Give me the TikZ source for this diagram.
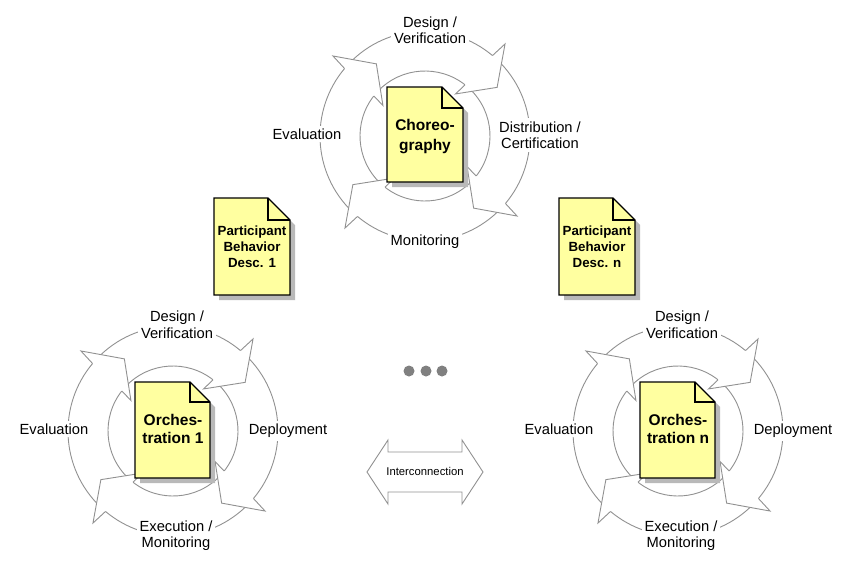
\documentclass[tikz,border=0pt]{standalone}
\usepackage{fontspec}
\setmainfont{Liberation Sans}
\definecolor{ringgray}{RGB}{145,145,145}
\definecolor{docyellow}{RGB}{255,255,160}
\definecolor{shadowgray}{RGB}{185,185,185}
\definecolor{dotgray}{RGB}{128,128,128}
\tikzset{
  ringline/.style={draw=ringgray, line width=0.9pt, line join=miter},
  docline/.style={draw=black, line width=1.2pt, line join=miter},
  lbl/.style={align=center, fill=white, inner sep=3pt, text=black,
    font=\fontsize{14.7}{16.5}\selectfont},
  doctxt/.style={align=center, inner sep=0pt, font=\bfseries\fontsize{15.5}{18.5}\selectfont},
  parttxt/.style={align=center, inner sep=0pt, font=\bfseries\fontsize{13.3}{16}\selectfont},
}
% body of one ring arrow: tail under previous head, ends at base angle #1
\newcommand\ringbody[1]{%
  \pgfmathsetmacro\tA{#1+86}%
  \pgfmathsetmacro\tI{#1+2}%
  \fill[white] (\tA:105) arc[start angle=\tA, end angle=#1, radius=105]
     -- (\tI:65) arc[start angle=\tI, end angle=\tA, radius=65] -- cycle;
  \draw[ringline] (\tA:105) arc[start angle=\tA, end angle=#1, radius=105];
  \draw[ringline] (\tA:65) arc[start angle=\tA, end angle=\tI, radius=65];
}
% head of one ring arrow at base angle #1 (points clockwise)
\newcommand\ringhead[1]{%
  \pgfmathsetmacro\hA{#1-1}%
  \pgfmathsetmacro\hT{#1-16}%
  \pgfmathsetmacro\hI{#1+4}%
  \pgfmathsetmacro\hB{#1+2}%
  \filldraw[ringline, fill=white] (#1:105) -- (\hA:122) -- (\hT:87) -- (\hI:52) -- (\hB:65);
}
\newcommand\ringcycle{%
  \foreach \b in {50,-40,-130,140} {\ringbody{\b}}
  \foreach \b in {50,-40,-130,140} {\ringhead{\b}}
}
% document with folded corner: left, top, right, bottom, fold
\newcommand\docfig[5]{%
  \fill[shadowgray, shift={(5,5)}] (#1,#2) -- ({#3-#5},#2) -- (#3,{#2+#5}) -- (#3,#4) -- (#1,#4) -- cycle;
  \filldraw[docline, fill=docyellow] (#1,#2) -- ({#3-#5},#2) -- (#3,{#2+#5}) -- (#3,#4) -- (#1,#4) -- cycle;
  \draw[docline] ({#3-#5},#2) -- ({#3-#5},{#2+#5}) -- (#3,{#2+#5});
}
\begin{document}
\begin{tikzpicture}[x=1pt, y=-1pt]
\fill[white] (0,0) rectangle (868,579);
\useasboundingbox (0,0) rectangle (868,579);

% ---- cycles ----
\begin{scope}[shift={(425,136)}, y=1pt]
  \ringcycle
\end{scope}
\begin{scope}[shift={(173,431)}, y=1pt]
  \ringcycle
\end{scope}
\begin{scope}[shift={(678,431)}, y=1pt]
  \ringcycle
\end{scope}

% ---- cycle labels ----
\node[lbl] (tdesign) at (430,30) {Design /\\Verification};
\node[lbl] (tdistr) at (540,135) {Distribution /\\Certification};
\node[lbl] (tmon) at (425,242) {Monitoring};
\node[lbl] (teval) at (307,134) {Evaluation};

\node[lbl] (ldesign) at (177,324.5) {Design /\\Verification};
\node[lbl] (ldeploy) at (288,431) {Deployment};
\node[lbl] (lexec) at (176,535.5) {Execution /\\Monitoring};
\node[lbl] (leval) at (54,429) {Evaluation};

\node[lbl] (rdesign) at (682,324.5) {Design /\\Verification};
\node[lbl] (rdeploy) at (793,431) {Deployment};
\node[lbl] (rexec) at (681,535.5) {Execution /\\Monitoring};
\node[lbl] (reval) at (559,429) {Evaluation};

% ---- documents ----
\docfig{387}{87}{463}{182}{21}
\node[doctxt, font=\bfseries\fontsize{15.5}{19.5}\selectfont] (chor) at (425,136.5) {Choreo-\\graphy};

\docfig{214}{198}{290}{295}{22}
\node[parttxt] (part1) at (252,246.5) {Participant\\Behavior\\Desc. 1};

\docfig{559}{198}{635}{295}{22}
\node[parttxt] (partn) at (597,246.5) {Participant\\Behavior\\Desc. n};

\docfig{135}{382}{210}{478}{20}
\node[doctxt] (orch1) at (173,429) {Orches-\\tration 1};

\docfig{640}{382}{715}{478}{20}
\node[doctxt] (orchn) at (678,429) {Orches-\\tration n};

% ---- dots ----
\foreach \x/\n in {409/d1,426/d2,442/d3}
  \node[circle, fill=dotgray, inner sep=0pt, minimum size=11pt] (\n) at (\x,371) {};

% ---- interconnection double arrow ----
\filldraw[ringline, fill=white] (367,472) -- (388,440) -- (388,452) -- (462,452) -- (462,440)
  -- (483,472) -- (462,504) -- (462,492) -- (388,492) -- (388,504) -- cycle;
\node[font=\fontsize{11.3}{13}\selectfont, inner sep=0pt] (inter) at (425,471) {Interconnection};
\end{tikzpicture}
\end{document}
